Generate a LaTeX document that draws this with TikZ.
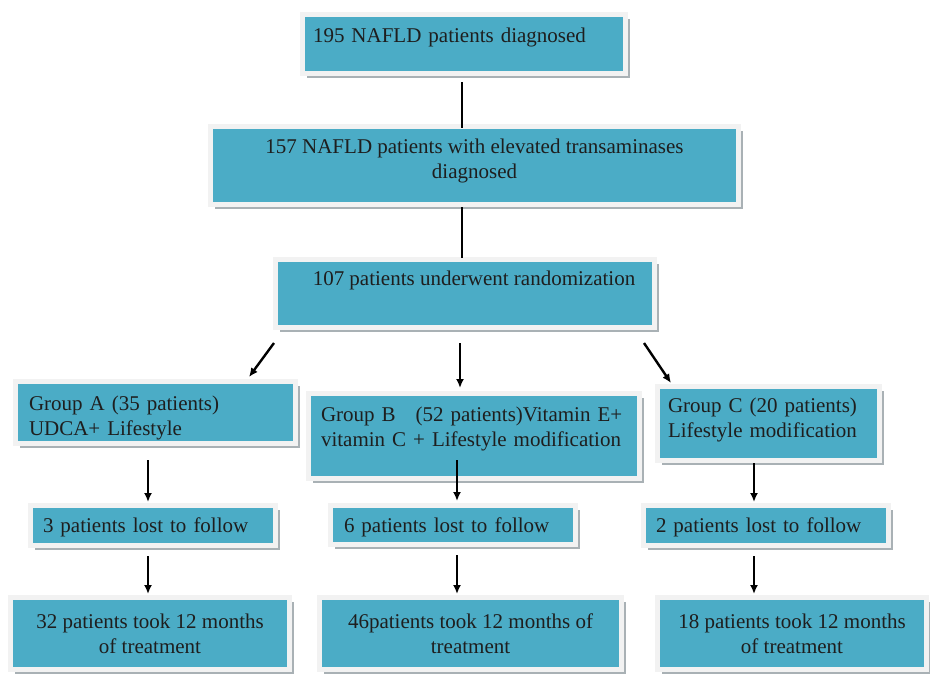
\documentclass[tikz,border=0pt]{standalone}
\usepackage{fontspec}
\setmainfont{Liberation Serif}
\usepackage{tikz}
\usetikzlibrary{arrows.meta}
\usetikzlibrary{shadows}
\definecolor{boxblue}{HTML}{4BACC6}
\definecolor{framegray}{HTML}{F2F2F2}
\definecolor{shadegray}{HTML}{A9B1B5}
\definecolor{inkgray}{HTML}{1E1E1E}

\begin{document}
\begin{tikzpicture}[x=1pt,y=-1pt,
  box/.style={rectangle,fill=boxblue,draw=framegray,line width=5pt,text=inkgray,
    font=\fontsize{21}{25}\selectfont,inner sep=0pt,
    drop shadow={shadow xshift=4.5pt,shadow yshift=-4.5pt,fill=shadegray,opacity=1}},
  link/.style={line width=2.4pt,black},
  arr/.style={link,-{Latex[length=9pt,width=8pt]}}]
  \useasboundingbox[fill=white] (0,0) rectangle (930,673);
  % top chain
  \node[box,minimum width=323pt,minimum height=59pt,text width=302pt,align=left,text depth=18.5pt] (diag) at (464,44) {195 NAFLD patients diagnosed};
  \node[box,minimum width=528pt,minimum height=78pt,align=center,text depth=13.5pt] (elev) at (474.5,165.5) {157 NAFLD patients with elevated transaminases\\diagnosed};
  \node[box,minimum width=379pt,minimum height=68pt,text depth=31.5pt] (rand) at (465,293.5) {\hspace*{18pt}107 patients underwent randomization};
  % groups
  \node[box,minimum width=280pt,minimum height=62pt,text width=253pt,align=left,text depth=19.5pt] (grpA) at (155.5,412.5) {Group A (35 patients)\\UDCA+ Lifestyle};
  \node[box,minimum width=331pt,minimum height=85pt,text width=306pt,align=left,text depth=44.5pt] (grpB) at (474,436) {Group B\hspace{20pt}(52 patients)Vitamin E+\\vitamin C + Lifestyle modification};
  \node[box,minimum width=222pt,minimum height=74pt,text width=201pt,align=left,text depth=37.5pt] (grpC) at (768.5,423.5) {Group C (20 patients)\\Lifestyle modification};
  % lost to follow
  \node[box,minimum width=245pt,minimum height=40pt,text width=220pt,align=left,text depth=-2.5pt] (lostA) at (153,525.5) {3 patients lost to follow};
  \node[box,minimum width=245pt,minimum height=39pt,text width=218pt,align=left,text depth=-1.5pt] (lostB) at (453,525) {6 patients lost to follow};
  \node[box,minimum width=245pt,minimum height=40pt,text width=220pt,align=left,text depth=-2.5pt] (lostC) at (766,525.5) {2 patients lost to follow};
  % completed
  \node[box,minimum width=279pt,minimum height=72pt,align=center,text depth=0.5pt] (doneA) at (150,633.5) {32 patients took 12 months\\of treatment};
  \node[box,minimum width=302pt,minimum height=72pt,align=center,text depth=0.5pt] (doneB) at (470.5,633.5) {46patients took 12 months of\\treatment};
  \node[box,minimum width=269pt,minimum height=72pt,align=center,text depth=0.5pt] (doneC) at (792,633.5) {18 patients took 12 months\\of treatment};
  % connectors
  \coordinate (spine) at (462,0);
  \coordinate (midB) at (460,0);
  \coordinate (colA) at (148,0);
  \coordinate (colB) at (457,0);
  \coordinate (colC) at (754,0);
  \draw[link,shorten <=6pt,shorten >=-4pt] (diag.south -| spine) -- (elev.north -| spine);
  \draw[link,shorten >=-1pt] (elev.south -| spine) -- (rand.north -| spine);
  \draw[arr] ([shift={(1,13)}]rand.south west) -- ([shift={(-49,-2)}]grpA.north east);
  \draw[arr,shorten <=13pt,shorten >=3pt] (rand.south -| midB) -- (grpB.north -| midB);
  \draw[arr] ([shift={(-13,13)}]rand.south east) -- ([shift={(16,-1)}]grpC.north west);
  \draw[arr,shorten <=14pt,shorten >=1pt] (grpA.south -| colA) -- (lostA.north -| colA);
  \draw[arr,shorten <=-21pt,shorten >=2pt] (grpB.south -| colB) -- (lostB.north -| colB);
  \draw[arr,shorten >=1pt] (grpC.south -| colC) -- (lostC.north -| colC);
  \draw[arr,shorten <=8pt,shorten >=1pt] (lostA.south -| colA) -- (doneA.north -| colA);
  \draw[arr,shorten <=8pt,shorten >=1pt] (lostB.south -| colB) -- (doneB.north -| colB);
  \draw[arr,shorten <=8pt,shorten >=1pt] (lostC.south -| colC) -- (doneC.north -| colC);
\end{tikzpicture}
\end{document}
